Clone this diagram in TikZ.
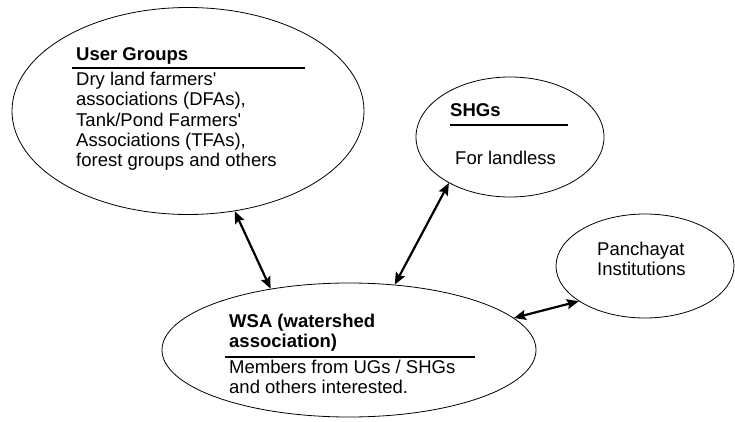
\documentclass[tikz,border=0pt]{standalone}
\usepackage{fontspec}
\setmainfont{Liberation Sans}
\usetikzlibrary{shapes.geometric, arrows.meta}

\tikzset{
  group/.style={ellipse, draw, line width=0.8pt, inner sep=0pt},
  link/.style={line width=2.2pt, {Stealth[length=12pt,width=10pt,inset=2pt]}-{Stealth[length=12pt,width=10pt,inset=2pt]}},
  head/.style={anchor=base west, inner sep=0pt, align=left, font=\bfseries\fontsize{18.5}{20}\selectfont},
  body/.style={anchor=base west, inner sep=0pt, align=left, font=\fontsize{18.5}{20}\selectfont},
  rule/.style={line width=1.4pt}
}

\begin{document}
\begin{tikzpicture}[x=10pt, y=10pt]
  \useasboundingbox (0,0) rectangle (73.5,42.1);

  % The four bodies
  \node[group, minimum width=352pt, minimum height=207pt] (ug)  at (18.8,31.0) {};
  \node[group, minimum width=188pt, minimum height=120pt] (shg) at (51.0,28.4) {};
  \node[group, minimum width=178pt, minimum height=104pt] (pi)  at (64.5,15.5) {};
  \node[group, minimum width=374pt, minimum height=134pt] (wsa) at (34.9,7.1) {};

  % User groups (base = last line)
  \node[head] (ugtitle) at (7.6,36.0) {User Groups};
  \draw[rule] (7.2,35.3) -- (30.5,35.3);
  \node[body] (ugtext) at (7.6,25.5) {Dry land farmers\textquotesingle\\associations (DFAs),\\Tank/Pond Farmers\textquotesingle\\Associations (TFAs),\\forest groups and others};

  % SHGs
  \node[head] (shgtitle) at (45.0,30.4) {SHGs};
  \draw[rule] (45.0,29.6) -- (56.8,29.6);
  \node[body] (shgtext) at (45.5,25.7) {For landless};

  % Panchayat
  \node[body] (pitext) at (59.7,14.6) {Panchayat\\Institutions};

  % Watershed association
  \node[head] (wsatitle) at (22.9,7.4) {WSA (watershed\\association)};
  \draw[rule] (22.5,6.4) -- (47.5,6.4);
  \node[body] (wsatext) at (22.9,2.8) {Members from UGs / SHGs\\and others interested.};

  % Links
  \draw[link] (ug.-65) -- (wsa.142);
  \draw[link] (shg.217) -- (wsa.55);
  \draw[link] (wsa.11) -- (pi.208);

\end{tikzpicture}
\end{document}
